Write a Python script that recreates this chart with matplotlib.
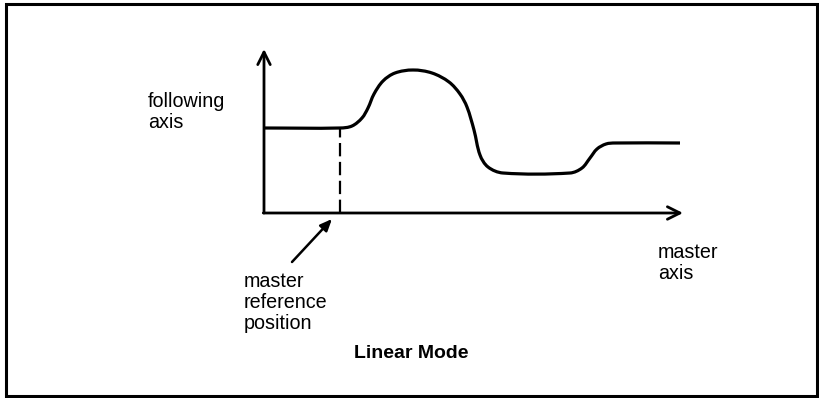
import numpy as np
import matplotlib.pyplot as plt
from matplotlib.path import Path
from matplotlib.patches import PathPatch, Rectangle

plt.rcParams['font.family'] = ['Liberation Sans', 'DejaVu Sans']

# cam profile: following-axis position against master-axis position
master = [0, 76, 88, 98, 104, 110, 119, 131, 149, 168, 185, 196, 203, 210,
          216, 224, 239, 306, 318, 326, 333, 342, 351, 416]
following = [85, 85, 87, 95, 105, 119, 132, 140, 143, 140, 131, 119, 106, 83,
             58, 46, 40, 40, 45, 55, 64, 69, 70, 70]
master_ref = 76          # master reference position
following_start = 85     # following position held until the reference

x_axis_end = 419
y_axis_end = 164

W, H = 819, 398
ox, oy = 264, 213        # where the axes cross, in pixels

fig = plt.figure(figsize=(W / 100, H / 100), dpi=100)
ax = fig.add_axes([0, 0, 1, 1])
ax.set_xlim(-ox, W - ox)
ax.set_ylim(-(H - oy), oy)
ax.axis('off')

# frame round the whole drawing
fig.patches.append(Rectangle((5.5 / W, 1 - 396 / H), 811.5 / W, 392 / H,
                             transform=fig.transFigure, fill=False,
                             lw=2.2, edgecolor='black'))


def smooth_path(xs, ys):
    # cubic Bezier through every knot, tangents from the neighbouring knots
    pts = np.column_stack([xs, ys]).astype(float)
    n = len(pts)
    tang = np.zeros_like(pts)
    for i in range(n):
        a = pts[max(i - 1, 0)]
        b = pts[min(i + 1, n - 1)]
        d = b - a
        tang[i] = d / np.hypot(*d)
    verts = [pts[0]]
    codes = [Path.MOVETO]
    for i in range(n - 1):
        seg = np.hypot(*(pts[i + 1] - pts[i])) / 3
        verts += [pts[i] + tang[i] * seg, pts[i + 1] - tang[i + 1] * seg, pts[i + 1]]
        codes += [Path.CURVE4] * 3
    return Path(verts, codes)


ax.add_patch(PathPatch(smooth_path(master, following), fill=False,
                       lw=2.3, edgecolor='black', capstyle='butt',
                       joinstyle='round'))

# dashed drop from the reference point to the master axis
ax.plot([master_ref, master_ref], [0, following_start], color='black',
        lw=1.6, linestyle=(0, (6, 2.5)))

# the two axes with open arrow heads
arrow = dict(arrowstyle='->,head_length=0.9,head_width=0.45', lw=2.0,
             color='black', shrinkA=0, shrinkB=0)
ax.annotate('', xy=(x_axis_end, 0), xytext=(-0.7, 0), arrowprops=arrow)
ax.annotate('', xy=(0, y_axis_end), xytext=(0, 0), arrowprops=arrow)

# pointer to the master reference position
ax.annotate('', xy=(68, -6), xytext=(28, -49),
            arrowprops=dict(arrowstyle='-|>,head_length=0.7,head_width=0.3',
                            lw=1.8, color='black', shrinkA=0, shrinkB=0))

txt = dict(fontsize=14.2, color='black', ha='left', va='top', linespacing=1.13)
ax.text(-116, 121, 'following\naxis', **txt)
ax.text(-20, -59, 'master\nreference\nposition', **txt)
ax.text(394, -30, 'master\naxis', **txt)

ax.text(147, -145, 'Linear Mode', fontsize=14, fontweight='bold',
        ha='center', va='baseline', color='black')

fig.savefig('out.png', dpi=100, facecolor='white')
